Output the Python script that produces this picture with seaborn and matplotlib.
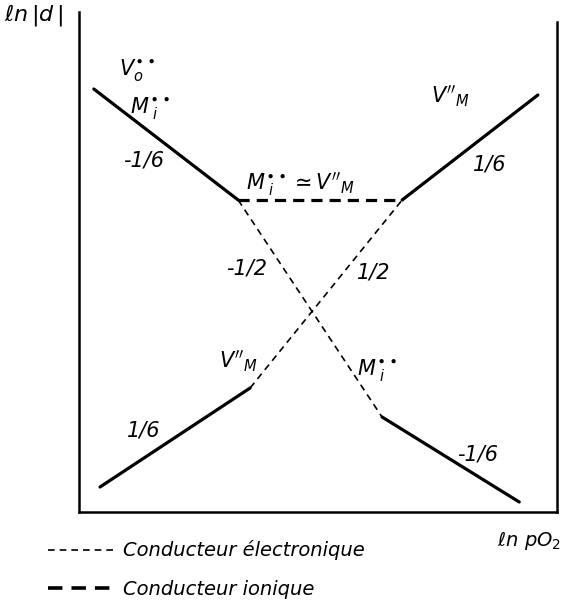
import matplotlib
matplotlib.use("Agg")
import matplotlib.pyplot as plt
from matplotlib.lines import Line2D
import seaborn as sns
import pandas as pd

# schematic segments (x = ln pO2, y = ln|d|), arbitrary units 0-10
upper_left_x = [0.31, 3.33]
upper_left_y = [8.46, 6.24]
upper_right_x = [6.76, 9.60]
upper_right_y = [6.24, 8.34]
lower_left_x = [0.44, 3.58]
lower_left_y = [0.50, 2.48]
lower_right_x = [6.34, 9.21]
lower_right_y = [1.90, 0.20]
ionic_x = [3.33, 6.76]
ionic_y = [6.24, 6.24]
elec_down_x = [3.33, 6.34]
elec_down_y = [6.24, 1.90]
elec_up_x = [3.58, 6.76]
elec_up_y = [2.48, 6.24]

slope_labels = ["-1/6", "1/6", "1/6", "-1/6", "-1/2", "1/2"]
legend_labels = ["Conducteur électronique", "Conducteur ionique"]

segments = [
    ("ul", "solid", upper_left_x, upper_left_y),
    ("ur", "solid", upper_right_x, upper_right_y),
    ("ll", "solid", lower_left_x, lower_left_y),
    ("lr", "solid", lower_right_x, lower_right_y),
    ("ion", "ionic", ionic_x, ionic_y),
    ("ed", "electronic", elec_down_x, elec_down_y),
    ("eu", "electronic", elec_up_x, elec_up_y),
]
rows = []
for name, kind, xs, ys in segments:
    for x, y in zip(xs, ys):
        rows.append({"x": x, "y": y, "seg": name, "kind": kind})
df = pd.DataFrame(rows)

sns.set_theme(style="white")
plt.rcParams["font.family"] = ["DejaVu Sans"]
plt.rcParams["mathtext.fontset"] = "dejavusans"
plt.rcParams["text.color"] = "black"

fig = plt.figure(figsize=(5.62, 6.0), dpi=100)
ax = fig.add_axes([79 / 562, 88 / 600, 478 / 562, 500 / 600])

sns.lineplot(data=df, x="x", y="y", units="seg", estimator=None, sort=False,
             style="kind", dashes={"solid": "", "ionic": (3.5, 2.2), "electronic": (4, 3)},
             size="kind", sizes={"solid": 2.3, "ionic": 2.3, "electronic": 1.2},
             color="black", legend=False, ax=ax)

ax.set_xlim(0, 10)
ax.set_ylim(0, 10)
ax.set_xticks([])
ax.set_yticks([])
ax.set_xlabel("")
ax.set_ylabel("")
ax.spines["top"].set_visible(False)
for s in ["left", "right", "bottom"]:
    ax.spines[s].set_color("black")
    ax.spines[s].set_linewidth(1.8)
ax.spines["right"].set_bounds(0, 9.8)

fs = 15
kw = dict(fontsize=fs, fontstyle="italic", ha="center", va="center", color="black")
ax.text(1.21, 8.84, r"$V_o^{\bullet\bullet}$", **kw)
ax.text(1.49, 8.08, r"$M^{\bullet\bullet}_{\ i}$", **kw)
ax.text(1.36, 7.04, slope_labels[0], **kw)
ax.text(4.64, 6.55, r"$M^{\bullet\bullet}_{\ i} \simeq V''_{M}$", **kw)
ax.text(7.78, 8.32, r"$V''_{M}$", **kw)
ax.text(8.60, 6.94, slope_labels[1], **kw)
ax.text(3.51, 4.88, slope_labels[4], **kw)
ax.text(6.17, 4.80, slope_labels[5], **kw)
ax.text(3.33, 3.02, r"$V''_{M}$", **kw)
ax.text(6.23, 2.84, r"$M^{\bullet\bullet}_{\ i}$", **kw)
ax.text(1.36, 1.62, slope_labels[2], **kw)
ax.text(8.33, 1.16, slope_labels[3], **kw)

fig.text(4 / 562, 1 - 15 / 600, r"$\ell n\,|d\,|$", fontsize=16, ha="left", va="center")
fig.text(561 / 562, 1 - 540 / 600, r"$\ell n\ pO_2$", fontsize=14, ha="right", va="center")

handles = [
    Line2D([0], [0], color="black", lw=1.2, dashes=(4, 3)),
    Line2D([0], [0], color="black", lw=2.6, dashes=(4, 2.5)),
]
leg = fig.legend(handles, legend_labels, loc="upper left", bbox_to_anchor=(30 / 562, 1 - 523 / 600),
                 frameon=False, handlelength=3.6, handletextpad=0.3, labelspacing=1.0,
                 prop={"size": 14, "style": "italic"})
for t in leg.get_texts():
    t.set_color("black")

fig.savefig("out.png", dpi=100)
